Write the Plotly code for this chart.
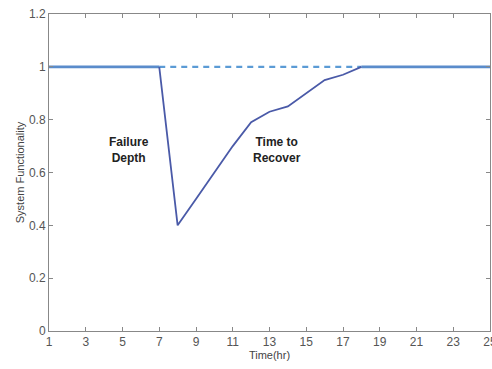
import plotly.graph_objects as go

time_hr = [1, 2, 3, 4, 5, 6, 7, 8, 9, 10, 11, 12, 13, 14, 15, 16, 17, 18, 19, 20, 21, 22, 23, 24, 25]
functionality = [1, 1, 1, 1, 1, 1, 1, 0.40, 0.50, 0.60, 0.70, 0.79, 0.83, 0.85, 0.90, 0.95, 0.97, 1, 1, 1, 1, 1, 1, 1, 1]
target = [1.0] * len(time_hr)
x_ticks = [1, 3, 5, 7, 9, 11, 13, 15, 17, 19, 21, 23, 25]
y_ticks = [0, 0.2, 0.4, 0.6, 0.8, 1.0, 1.2]
y_tick_labels = ["0", "0.2", "0.4", "0.6", "0.8", "1", "1.2"]

fail_start, recover_end = 7, 18

normal_x, normal_y, dis_x, dis_y, dash_x, dash_y = [], [], [], [], [], []
for t, f, g in zip(time_hr, functionality, target):
    if t <= fail_start or t >= recover_end:
        normal_x.append(t); normal_y.append(f)
    else:
        normal_x.append(t); normal_y.append(None)
    if fail_start <= t <= recover_end:
        dis_x.append(t); dis_y.append(f)
        dash_x.append(t); dash_y.append(g)

fig = go.Figure()
fig.add_trace(go.Scatter(x=dash_x, y=dash_y, mode="lines",
                         line=dict(color="#5b9bd5", width=2.2, dash="6px,5px"), showlegend=False))
fig.add_trace(go.Scatter(x=normal_x, y=normal_y, mode="lines", connectgaps=False,
                         line=dict(color="#5a8ccb", width=2.6), showlegend=False))
fig.add_trace(go.Scatter(x=dis_x, y=dis_y, mode="lines",
                         line=dict(color="#4a5aa8", width=1.8), showlegend=False))

fig.add_annotation(x=5.36, y=0.685, text="<b>Failure<br>Depth</b>", showarrow=False,
                   font=dict(family="Liberation Sans, Arial", size=12, color="#222"))
fig.add_annotation(x=13.4, y=0.685, text="<b>Time to<br>Recover</b>", showarrow=False,
                   font=dict(family="Liberation Sans, Arial", size=12, color="#222"))

axis_common = dict(showline=True, linecolor="#888", linewidth=1, mirror="ticks",
                   ticks="inside", ticklen=4, tickcolor="#888", showgrid=False, zeroline=False,
                   automargin=False, ticklabeloverflow="allow",
                   tickfont=dict(family="Liberation Sans, Arial", size=12, color="#555"))
fig.update_xaxes(range=[1, 25], tickvals=x_ticks,
                 title=dict(text="Time(hr)", standoff=0,
                            font=dict(family="Liberation Sans, Arial", size=11, color="#444")),
                 **axis_common)
fig.update_yaxes(range=[0, 1.2], tickvals=y_ticks, ticktext=y_tick_labels,
                 title=dict(text="System Functionality", standoff=2,
                            font=dict(family="Liberation Sans, Arial", size=11, color="#444")),
                 **axis_common)

fig.update_layout(width=492, height=369, margin=dict(l=49, r=2, t=14, b=38),
                  plot_bgcolor="white", paper_bgcolor="white")

fig.write_html("out.html", config={"displayModeBar": False},
               post_script="document.body.style.margin='0';document.body.style.overflow='hidden';")
